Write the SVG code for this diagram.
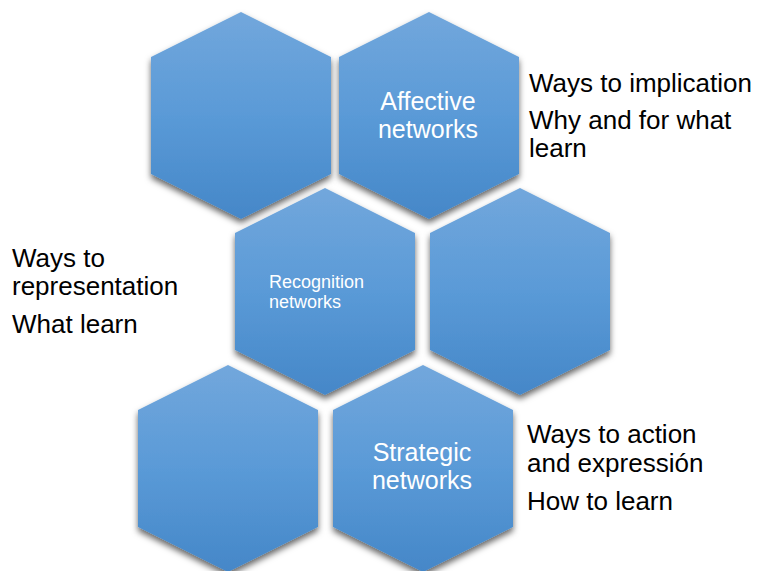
<svg xmlns="http://www.w3.org/2000/svg" xmlns:xlink="http://www.w3.org/1999/xlink" width="760" height="571" viewBox="0 0 760 571">
  <style>
    .hex { fill: url(#hexGrad); filter: url(#shadow); }
    .lbl { font-family: "Liberation Sans", Arial, sans-serif; fill: #ffffff; }
    .side { font-family: "Liberation Sans", Arial, sans-serif; fill: #000000; font-size: 26px; }
  </style>
  <defs>
    <linearGradient id="hexGrad" x1="0" y1="0" x2="0" y2="1">
      <stop offset="0" stop-color="#72a7dc"/>
      <stop offset="0.5" stop-color="#5a9ad7"/>
      <stop offset="1" stop-color="#4587c8"/>
    </linearGradient>
    <filter id="shadow" x="-10%" y="-10%" width="120%" height="125%">
      <feDropShadow dx="0" dy="4" stdDeviation="3" flood-color="#000000" flood-opacity="0.6"/>
    </filter>
    <path id="hexShape" d="M90,0 L180,45 L180,162 L90,207 L0,162 L0,45 Z"/>
  </defs>
  <rect width="760" height="571" fill="#ffffff"/>
  <g id="connectors"/>
  <g id="hex1"><use xlink:href="#hexShape" href="#hexShape" class="hex" x="151" y="12"/></g>
  <g id="hex2">
    <use xlink:href="#hexShape" href="#hexShape" class="hex" x="339" y="12"/>
    <text class="lbl" font-size="25" text-anchor="middle"><tspan x="428" y="110">Affective</tspan><tspan x="428" y="138">networks</tspan></text>
  </g>
  <g id="hex3">
    <use xlink:href="#hexShape" href="#hexShape" class="hex" x="235" y="188"/>
    <text class="lbl" font-size="18"><tspan x="269" y="288">Recognition</tspan><tspan x="269" y="308">networks</tspan></text>
  </g>
  <g id="hex4"><use xlink:href="#hexShape" href="#hexShape" class="hex" x="430" y="188"/></g>
  <g id="hex5"><use xlink:href="#hexShape" href="#hexShape" class="hex" x="138" y="365"/></g>
  <g id="hex6">
    <use xlink:href="#hexShape" href="#hexShape" class="hex" x="333" y="365"/>
    <text class="lbl" font-size="25" text-anchor="middle"><tspan x="422" y="461">Strategic</tspan><tspan x="422" y="489">networks</tspan></text>
  </g>
  <g id="text-affective">
    <text class="side"><tspan x="529" y="92">Ways to implication</tspan></text>
    <text class="side"><tspan x="529" y="129">Why and for what</tspan><tspan x="529" y="157">learn</tspan></text>
  </g>
  <g id="text-recognition">
    <text class="side"><tspan x="12" y="267">Ways to</tspan><tspan x="12" y="295">representation</tspan></text>
    <text class="side"><tspan x="12" y="333">What learn</tspan></text>
  </g>
  <g id="text-strategic">
    <text class="side"><tspan x="527" y="443">Ways to action</tspan><tspan x="527" y="472">and expressión</tspan></text>
    <text class="side"><tspan x="527" y="510">How to learn</tspan></text>
  </g>
</svg>
